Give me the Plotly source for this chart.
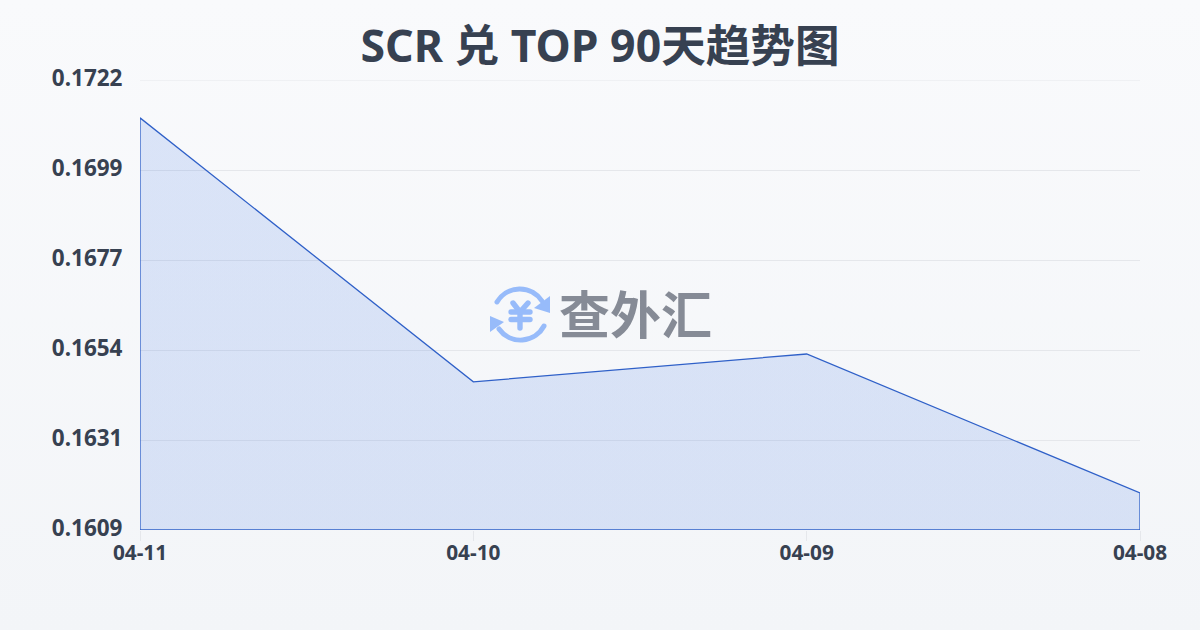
import base64
import plotly.graph_objects as go

TITLE = "SCR 兑 TOP 90天趋势图"
WATERMARK = "查外汇"
categories = ["04-11", "04-10", "04-09", "04-08"]
rates = [0.17125, 0.16462, 0.16532, 0.16183]
y_ticks = [0.1609, 0.16316, 0.16542, 0.16768, 0.16994, 0.1722]
y_tick_labels = ["0.1609", "0.1631", "0.1654", "0.1677", "0.1699", "0.1722"]
y_min, y_max = 0.1609, 0.1722

FONT = "'Noto Sans','Noto Sans CJK SC',sans-serif"
INK = "#374151"
LINE = "#2f60c8"
GRID = "#e5e7eb"
ICON = "#97bbfa"


def svg_uri(svg):
    return "data:image/svg+xml;base64," + base64.b64encode(svg.encode()).decode()


background = svg_uri(
    '<svg xmlns="http://www.w3.org/2000/svg" width="1200" height="630" preserveAspectRatio="none">'
    '<defs><linearGradient id="g" x1="0" y1="0" x2="0" y2="1">'
    '<stop offset="0" stop-color="#f9fafc"/><stop offset="1" stop-color="#f3f5f8"/>'
    '</linearGradient></defs><rect width="1200" height="630" fill="url(#g)"/></svg>'
)
icon = svg_uri(
    '<svg xmlns="http://www.w3.org/2000/svg" viewBox="0 0 70 70" width="70" height="70">'
    f'<g fill="none" stroke="{ICON}" stroke-width="5" stroke-linecap="round" stroke-linejoin="round">'
    '<path d="M12 22 A26.5 26.5 0 0 1 57 21"/><path d="M59 46 A26.5 26.5 0 0 1 14 49"/></g>'
    f'<g fill="none" stroke="{ICON}" stroke-width="5.4" stroke-linecap="round" stroke-linejoin="round">'
    '<path d="M28 23 L35 32 L43 23"/><path d="M35 32 L35 48"/>'
    '<path d="M26 32 L45 32"/><path d="M26 39.5 L45 39.5"/></g>'
    f'<path d="M65 16 L65 33 L49 28 Z" fill="{ICON}"/><path d="M5 36 L5 52 L19 42 Z" fill="{ICON}"/>'
    '</svg>'
)

fig = go.Figure()
fig.add_trace(go.Scatter(
    x=categories, y=rates, mode="none", fill="tozeroy",
    fillgradient=dict(type="vertical", colorscale=[[0, "rgba(37,90,210,0.15)"], [1, "rgba(37,99,225,0.14)"]]),
    hoverinfo="skip", showlegend=False,
))
fig.add_trace(go.Scatter(
    x=[categories[0]] + categories + [categories[-1], categories[0]],
    y=[y_min] + rates + [y_min, y_min],
    mode="lines", line=dict(color=LINE, width=1.3), cliponaxis=False,
    hoverinfo="skip", showlegend=False,
))

fig.update_layout(
    width=1200, height=630,
    margin=dict(l=140, r=60, t=80, b=100),
    paper_bgcolor="#f6f7fa", plot_bgcolor="rgba(0,0,0,0)",
    font=dict(family=FONT, color=INK),
    title=dict(text=f"<b>{TITLE}</b>", x=0.5, xanchor="center", y=0.926, yanchor="middle",
               font=dict(size=44.6, family=FONT, color=INK)),
    xaxis=dict(
        type="category", categoryorder="array", categoryarray=categories, range=[0, 3],
        showgrid=False, zeroline=False, showline=False,
        ticks="outside", ticklen=10, tickcolor=GRID, tickwidth=1, ticklabelstandoff=-6,
        tickfont=dict(size=20.8, family=FONT, color=INK, weight="bold"),
    ),
    yaxis=dict(
        range=[y_min, y_max], tickmode="array", tickvals=y_ticks, ticktext=y_tick_labels,
        showgrid=True, gridcolor=GRID, gridwidth=1, zeroline=False, showline=False,
        ticks="outside", ticklen=12, tickcolor="rgba(0,0,0,0)", ticklabelshift=-2,
        tickfont=dict(size=22.5, family=FONT, color=INK, weight="bold"),
    ),
    shapes=[dict(type="line", xref="paper", x0=0, x1=1, yref="y", y0=y_max, y1=y_max,
                 line=dict(color=GRID, width=1), layer="below")],
    images=[
        dict(source=background, xref="paper", yref="paper", x=-140 / 1000, y=530 / 450,
             sizex=1.2, sizey=630 / 450, xanchor="left", yanchor="top", sizing="stretch", layer="below"),
        dict(source=icon, xref="paper", yref="paper", x=0.345, y=(530 - 315) / 450,
             sizex=0.07, sizey=70 / 450, xanchor="left", yanchor="middle", sizing="contain", layer="above"),
    ],
    annotations=[dict(
        text=f"<b>{WATERMARK}</b>", xref="paper", yref="paper", x=(635.5 - 140) / 1000, y=(530 - 312) / 450,
        xanchor="center", yanchor="middle", showarrow=False,
        font=dict(size=51, family="'Noto Sans CJK SC',sans-serif", color="#868b96"),
    )],
)

fig.write_html(
    "out.html",
    config={"displayModeBar": False},
    post_script="document.body.style.margin='0';document.documentElement.style.overflow='hidden';",
)
